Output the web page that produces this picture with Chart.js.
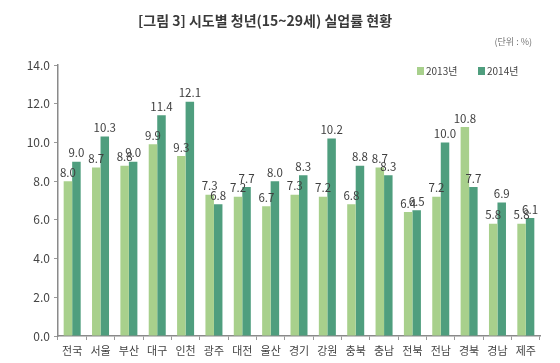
<!DOCTYPE html>
<html>
<head>
<meta charset="utf-8">
<script src="https://cdn.jsdelivr.net/npm/chart.js@4/dist/chart.umd.min.js"></script>
<style>
  html, body { margin: 0; padding: 0; background: #fff; }
  #wrap { width: 560px; height: 363px; position: relative; }
</style>
</head>
<body>
<div id="wrap"><canvas id="c1" width="560" height="363"></canvas></div>
<script>
  // data
  var regions = ['전국', '서울', '부산', '대구', '인천', '광주', '대전', '울산', '경기', '강원', '충북', '충남', '전북', '전남', '경북', '경남', '제주']
  var rate2013 = [8.0, 8.7, 8.8, 9.9, 9.3, 7.3, 7.2, 6.7, 7.3, 7.2, 6.8, 8.7, 6.4, 7.2, 10.8, 5.8, 5.8]
  var rate2014 = [9.0, 10.3, 9.0, 11.4, 12.1, 6.8, 7.7, 8.0, 8.3, 10.2, 8.8, 8.3, 6.5, 10.0, 7.7, 6.9, 6.1]
  var seriesNames = ['2013년', '2014년']
  var titleText = '[그림 3] 시도별 청년(15~29세) 실업률 현황'
  var unitText = '(단위 : %)'

  var font = "'Noto Sans CJK KR', 'Noto Sans', sans-serif"

  // value labels above bars + title, unit and legend
  var decoPlugin = {
    id: 'deco',
    afterDatasetsDraw: function(chart) {
      var ctx = chart.ctx
      ctx.save()
      ctx.font = '11.5px ' + font
      ctx.fillStyle = '#404040'
      ctx.textAlign = 'center'
      ctx.textBaseline = 'bottom'
      chart.data.datasets.forEach(function(ds, i) {
        chart.getDatasetMeta(i).data.forEach(function(bar, j) {
          ctx.fillText(ds.data[j].toFixed(1), bar.x, bar.y - 3)
        })
      })

      // title
      ctx.font = 'bold 14px ' + font
      ctx.fillStyle = '#3a3a3a'
      ctx.textBaseline = 'middle'
      ctx.fillText(titleText, 265, 21)

      ctx.font = '9px ' + font
      ctx.fillStyle = '#777'
      ctx.textAlign = 'right'
      ctx.fillText(unitText, 532, 42)

      // legend
      var lx = [417, 478]
      ctx.font = '10px ' + font
      ctx.textAlign = 'left'
      chart.data.datasets.forEach(function(ds, i) {
        ctx.fillStyle = ds.backgroundColor
        ctx.fillRect(lx[i], 67, 7, 8)
        ctx.fillStyle = '#444'
        ctx.fillText(ds.label, lx[i] + 9, 71.5)
      })
      ctx.restore()
    }
  }

  var ctx = document.getElementById('c1')
  var chart1 = new Chart(ctx, {
    type: 'bar',
    data: {
      labels: regions,
      datasets: [{
        label: seriesNames[0],
        data: rate2013,
        backgroundColor: '#a8d08c'
      }, {
        label: seriesNames[1],
        data: rate2014,
        backgroundColor: '#4f9e7e'
      }]
    },
    options: {
      responsive: false,
      animation: false,
      categoryPercentage: 0.6,
      barPercentage: 1.0,
      layout: { padding: { top: 65, right: 20, left: 0, bottom: 0 } },
      plugins: {
        legend: { display: false },
        title: { display: false },
        tooltip: { enabled: false }
      },
      scales: {
        x: {
          grid: { display: true, offset: true, drawOnChartArea: false, drawTicks: true, tickLength: 4, color: '#999' },
          border: { color: '#8a8a8a', width: 1.5 },
          ticks: { color: '#444', font: { family: font, size: 11 }, padding: 4 },
          afterFit: function(scale) { scale.height = 27 }
        },
        y: {
          min: 0,
          max: 14,
          grid: { drawOnChartArea: false, drawTicks: true, tickLength: 4, color: '#999' },
          border: { color: '#8a8a8a', width: 1.5 },
          ticks: {
            stepSize: 2,
            color: '#444',
            font: { family: font, size: 12 },
            padding: 4,
            callback: function(v) { return v.toFixed(1) }
          },
          afterFit: function(scale) { scale.width = 58 }
        }
      }
    },
    plugins: [decoPlugin]
  })
</script>
</body>
</html>
